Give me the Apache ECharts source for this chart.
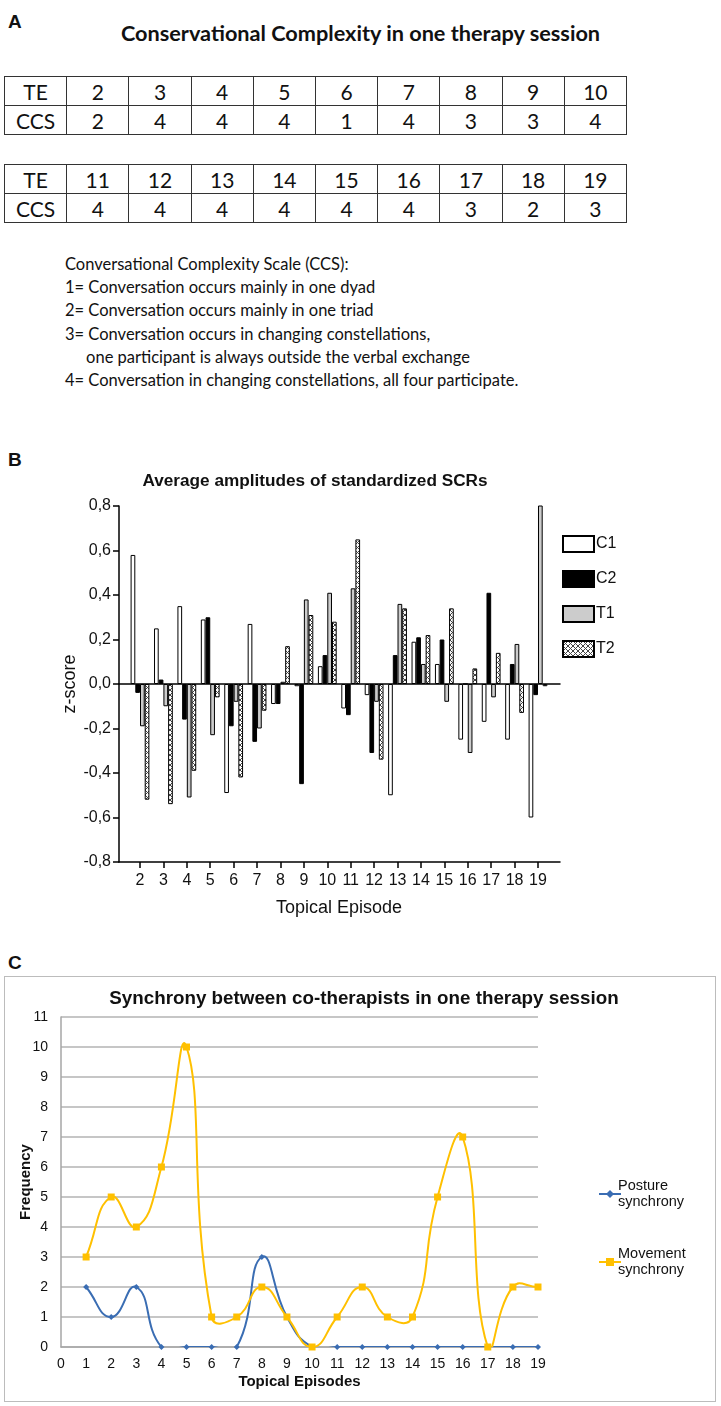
<!DOCTYPE html>
<html>
<head>
<meta charset="utf-8">
<script src="https://cdn.jsdelivr.net/npm/echarts@6/dist/echarts.min.js"></script>
<style>
body { margin: 0; background: #fff; width: 721px; height: 1406px; position: relative; overflow: hidden; }
.lbl { position: absolute; left: 8px; font: bold 19px Arial, "Liberation Sans", sans-serif; color: #111; }
#titleA { position: absolute; left: 0; width: 721px; top: 20px; text-align: center; font: bold 21.7px Lato, sans-serif; color: #111; }
table.ccs { position: absolute; left: 4px; width: 623px; border-collapse: collapse; table-layout: fixed; font: 21px Lato, sans-serif; color: #111; }
table.ccs td { border: 1.5px solid #333; height: 28px; padding: 0; text-align: center; }
#scale { position: absolute; left: 65px; top: 253px; font: 16.5px Lato, sans-serif; line-height: 23.2px; color: #111; white-space: pre; }
#chartB { position: absolute; left: 0; top: 440px; width: 721px; height: 490px; }
#boxC { position: absolute; left: 4px; top: 976px; width: 710px; height: 424px; border: 1.5px solid #bcbcbc; }
#chartC { position: absolute; left: 0; top: 950px; width: 721px; height: 456px; }
</style>
</head>
<body>
<div class="lbl" style="top:11px">A</div>
<div class="lbl" style="top:449px">B</div>
<div class="lbl" style="top:952px">C</div>
<div id="titleA">Conservational Complexity in one therapy session</div>
<table class="ccs" id="tab1" style="top:76px"></table>
<table class="ccs" id="tab2" style="top:164px"></table>
<div id="scale"></div>
<div id="chartB"></div>
<div id="boxC"></div>
<div id="chartC"></div>

<script>
// panel A
var teRow1 = [2, 3, 4, 5, 6, 7, 8, 9, 10];
var ccsRow1 = [2, 4, 4, 4, 1, 4, 3, 3, 4];
var teRow2 = [11, 12, 13, 14, 15, 16, 17, 18, 19];
var ccsRow2 = [4, 4, 4, 4, 4, 4, 3, 2, 3];
var scaleLines = [
    'Conversational Complexity Scale (CCS):',
    '1= Conversation occurs mainly in one dyad',
    '2= Conversation occurs mainly in one triad',
    '3= Conversation occurs in changing constellations,',
    '     one participant is always outside the verbal exchange',
    '4= Conversation in changing constellations, all four participate.'
];

// panel B
var episodesB = ['2', '3', '4', '5', '6', '7', '8', '9', '10', '11', '12', '13', '14', '15', '16', '17', '18', '19'];
var c1 = [0.58, 0.25, 0.35, 0.29, -0.49, 0.27, -0.09, -0.01, 0.08, -0.11, -0.05, -0.50, 0.19, 0.09, -0.25, -0.17, -0.25, -0.60];
var c2 = [-0.04, 0.02, -0.16, 0.30, -0.19, -0.26, -0.09, -0.45, 0.13, -0.14, -0.31, 0.13, 0.21, 0.20, 0, 0.41, 0.09, -0.05];
var t1 = [-0.19, -0.10, -0.51, -0.23, -0.08, -0.20, 0.01, 0.38, 0.41, 0.43, -0.08, 0.36, 0.09, -0.08, -0.31, -0.06, 0.18, 0.82];
var t2 = [-0.52, -0.54, -0.39, -0.06, -0.42, -0.12, 0.17, 0.31, 0.28, 0.65, -0.34, 0.34, 0.22, 0.34, 0.07, 0.14, -0.13, -0.01];

// panel C
var episodesC = [1, 2, 3, 4, 5, 6, 7, 8, 9, 10, 11, 12, 13, 14, 15, 16, 17, 18, 19];
var posture = [2, 1, 2, 0, 0, 0, 0, 3, 1, 0, 0, 0, 0, 0, 0, 0, 0, 0, 0];
var movement = [3, 5, 4, 6, 10, 1, 1, 2, 1, 0, 1, 2, 1, 1, 5, 7, 0, 2, 2];

var chart = {};
chart.font = 'Arial, "Liberation Sans", sans-serif';

/**
 * TE / CCS table
 */
chart.fillTable = function(id, te, ccs) {
    var html = '<tr><td>TE</td>';
    te.forEach(function(v) { html += '<td>' + v + '</td>'; });
    html += '</tr><tr><td>CCS</td>';
    ccs.forEach(function(v) { html += '<td>' + v + '</td>'; });
    html += '</tr>';
    document.getElementById(id).innerHTML = html;
}

/**
 * cross hatch for T2
 */
chart.hatch = function() {
    var c = document.createElement('canvas');
    c.width = 5;
    c.height = 5;
    var ctx = c.getContext('2d');
    ctx.fillStyle = '#fff';
    ctx.fillRect(0, 0, 5, 5);
    ctx.strokeStyle = '#444';
    ctx.lineWidth = 1;
    ctx.beginPath();
    ctx.moveTo(0, 0); ctx.lineTo(5, 5);
    ctx.moveTo(5, 0); ctx.lineTo(0, 5);
    ctx.stroke();
    return c;
}

chart.barSeries = function(name, data, fill) {
    return {
        name: name, type: 'bar', data: data,
        xAxisIndex: 2, yAxisIndex: 1,
        barWidth: 4.7, barGap: '0%',
        itemStyle: { color: fill, borderColor: '#000', borderWidth: 1 }
    };
}

/**
 * bar chart B
 */
chart.setChartB = function(dom) {
    var char = echarts.init(document.getElementById(dom));
    var axisTxt = { color: '#111', fontFamily: chart.font, fontSize: 16 };
    char.setOption({
        animation: false,
        title: {
            text: 'Average amplitudes of standardized SCRs',
            left: 310, top: 28, textAlign: 'center',
            textStyle: { fontFamily: chart.font, fontSize: 17.2, fontWeight: 'bold', color: '#111' }
        },
        legend: {
            orient: 'vertical', left: 557, top: 90,
            itemWidth: 31, itemHeight: 16, itemGap: 17,
            icon: 'rect',
            textStyle: { color: '#111', fontFamily: chart.font, fontSize: 16, padding: [0, 0, 0, -3] },
            data: ['C1', 'C2', 'T1', 'T2']
        },
        grid: [
            { left: 119, top: 66, width: 441, height: 356 },
            { left: 128.3, top: 66, width: 421.4, height: 356 }
        ],
        xAxis: [
            { gridIndex: 0, type: 'value', min: 0, max: 1, position: 'bottom',
              axisLine: { onZero: false, lineStyle: { color: '#000', width: 1.5 } },
              axisTick: { show: false }, axisLabel: { show: false }, splitLine: { show: false } },
            { gridIndex: 0, type: 'value', min: 0, max: 1, position: 'top',
              axisLine: { onZero: true, lineStyle: { color: '#000', width: 1.5 } },
              axisTick: { show: false }, axisLabel: { show: false }, splitLine: { show: false } },
            { gridIndex: 1, type: 'category', data: episodesB, position: 'bottom',
              axisLine: { show: false, onZero: false },
              axisTick: { show: true, alignWithLabel: true, length: 6, lineStyle: { color: '#000', width: 1.5 } },
              axisLabel: Object.assign({ margin: 11 }, axisTxt),
              name: 'Topical Episode', nameLocation: 'middle', nameGap: 37, nameMoveOverlap: false,
              nameTextStyle: { color: '#111', fontFamily: chart.font, fontSize: 18 } }
        ],
        yAxis: [
            { gridIndex: 0, type: 'value', min: -0.8, max: 0.8, interval: 0.2,
              axisLine: { show: true, lineStyle: { color: '#000', width: 1.5 } },
              axisTick: { show: true, length: 6, lineStyle: { color: '#000', width: 1.5 } },
              axisLabel: Object.assign({ margin: 8, formatter: function(v) { return v.toFixed(1).replace('.', ','); } }, axisTxt),
              splitLine: { show: false },
              name: 'z-score', nameLocation: 'middle', nameRotate: 90, nameGap: 40, nameMoveOverlap: false,
              nameTextStyle: { color: '#111', fontFamily: chart.font, fontSize: 18 } },
            { gridIndex: 1, type: 'value', min: -0.8, max: 0.8, show: false }
        ],
        series: [
            chart.barSeries('C1', c1, '#fff'),
            chart.barSeries('C2', c2, '#000'),
            chart.barSeries('T1', t1, '#cccccc'),
            chart.barSeries('T2', t2, { image: chart.hatch(), repeat: 'repeat' })
        ]
    });
}

/**
 * smoothed curve (spreadsheet style, no clamping of control points)
 */
chart.curveSeries = function(ys, color) {
    var n = ys.length;
    var dist = function(a, b) { return Math.sqrt((a[0] - b[0]) * (a[0] - b[0]) + (a[1] - b[1]) * (a[1] - b[1])); };
    return {
        type: 'custom', silent: true, z: 2, clip: true,
        encode: { x: 0, y: 1 },
        data: episodesC.slice(0, n - 1).map(function(x, i) { return [x, ys[i]]; }),
        renderItem: function(params, api) {
            var i = params.dataIndex;
            var pt = function(k) {
                k = Math.max(0, Math.min(n - 1, k));
                return api.coord([episodesC[k], ys[k]]);
            };
            var p0 = pt(i - 1), p1 = pt(i), p2 = pt(i + 1), p3 = pt(i + 2);
            var d12 = dist(p1, p2);
            var r1 = 0.5 * d12 / ((dist(p0, p1) + d12) || 1);
            var r2 = 0.5 * d12 / ((d12 + dist(p2, p3)) || 1);
            return {
                type: 'bezierCurve',
                shape: {
                    x1: p1[0], y1: p1[1], x2: p2[0], y2: p2[1],
                    cpx1: p1[0] + (p2[0] - p0[0]) * r1, cpy1: p1[1] + (p2[1] - p0[1]) * r1,
                    cpx2: p2[0] - (p3[0] - p1[0]) * r2, cpy2: p2[1] - (p3[1] - p1[1]) * r2
                },
                style: { stroke: color, lineWidth: 2, fill: null }
            };
        }
    };
}

/**
 * line chart C
 */
chart.setChartC = function(dom) {
    var char = echarts.init(document.getElementById(dom));
    var pairs = function(ys) { return episodesC.map(function(x, i) { return [x, ys[i]]; }); };
    var axisTxt = { color: '#111', fontFamily: chart.font, fontSize: 14 };
    char.setOption({
        animation: false,
        title: {
            text: 'Synchrony between co-therapists in one therapy session',
            left: 359, top: 34, textAlign: 'center',
            textStyle: { fontFamily: chart.font, fontSize: 18.8, fontWeight: 'bold', color: '#111' }
        },
        legend: {
            orient: 'vertical', left: 593, top: 215,
            itemWidth: 22, itemHeight: 10, itemGap: 20,
            lineStyle: { opacity: 1 },
            textStyle: { color: '#111', fontFamily: chart.font, fontSize: 14.5, lineHeight: 16, padding: [16, 0, 0, -8] },
            formatter: function(name) { return name.replace(' ', '\n'); },
            data: ['Posture synchrony', 'Movement synchrony']
        },
        grid: { left: 61, top: 67, width: 477, height: 330 },
        xAxis: {
            type: 'value', min: 0, max: 19, interval: 1,
            axisLine: { lineStyle: { color: '#a6a6a6', width: 1.5 } },
            axisTick: { show: false },
            axisLabel: Object.assign({ margin: 10 }, axisTxt),
            splitLine: { show: false },
            name: 'Topical Episodes', nameLocation: 'middle', nameGap: 27, nameMoveOverlap: false,
            nameTextStyle: { color: '#111', fontFamily: chart.font, fontSize: 15, fontWeight: 'bold' }
        },
        yAxis: {
            type: 'value', min: 0, max: 11, interval: 1,
            axisLine: { show: true, lineStyle: { color: '#a6a6a6', width: 1.5 } },
            axisTick: { show: false },
            axisLabel: Object.assign({ margin: 13 }, axisTxt),
            splitLine: { lineStyle: { color: '#b3b3b3', width: 1.5 } },
            name: 'Frequency', nameLocation: 'middle', nameRotate: 90, nameGap: 28, nameMoveOverlap: false,
            nameTextStyle: { color: '#111', fontFamily: chart.font, fontSize: 15, fontWeight: 'bold' }
        },
        series: [
            chart.curveSeries(posture, '#3a6db3'),
            chart.curveSeries(movement, '#ffc000'),
            { name: 'Posture synchrony', type: 'line', data: pairs(posture), z: 3,
              symbol: 'diamond', symbolSize: 6,
              lineStyle: { color: '#3a6db3', width: 2, opacity: 0 }, itemStyle: { color: '#3a6db3' } },
            { name: 'Movement synchrony', type: 'line', data: pairs(movement), z: 3,
              symbol: 'rect', symbolSize: 7,
              lineStyle: { color: '#ffc000', width: 2, opacity: 0 }, itemStyle: { color: '#ffc000' } }
        ]
    });
}

chart.fillTable('tab1', teRow1, ccsRow1);
chart.fillTable('tab2', teRow2, ccsRow2);
document.getElementById('scale').textContent = scaleLines.join('\n');
chart.setChartB('chartB');
chart.setChartC('chartC');
</script>
</body>
</html>
